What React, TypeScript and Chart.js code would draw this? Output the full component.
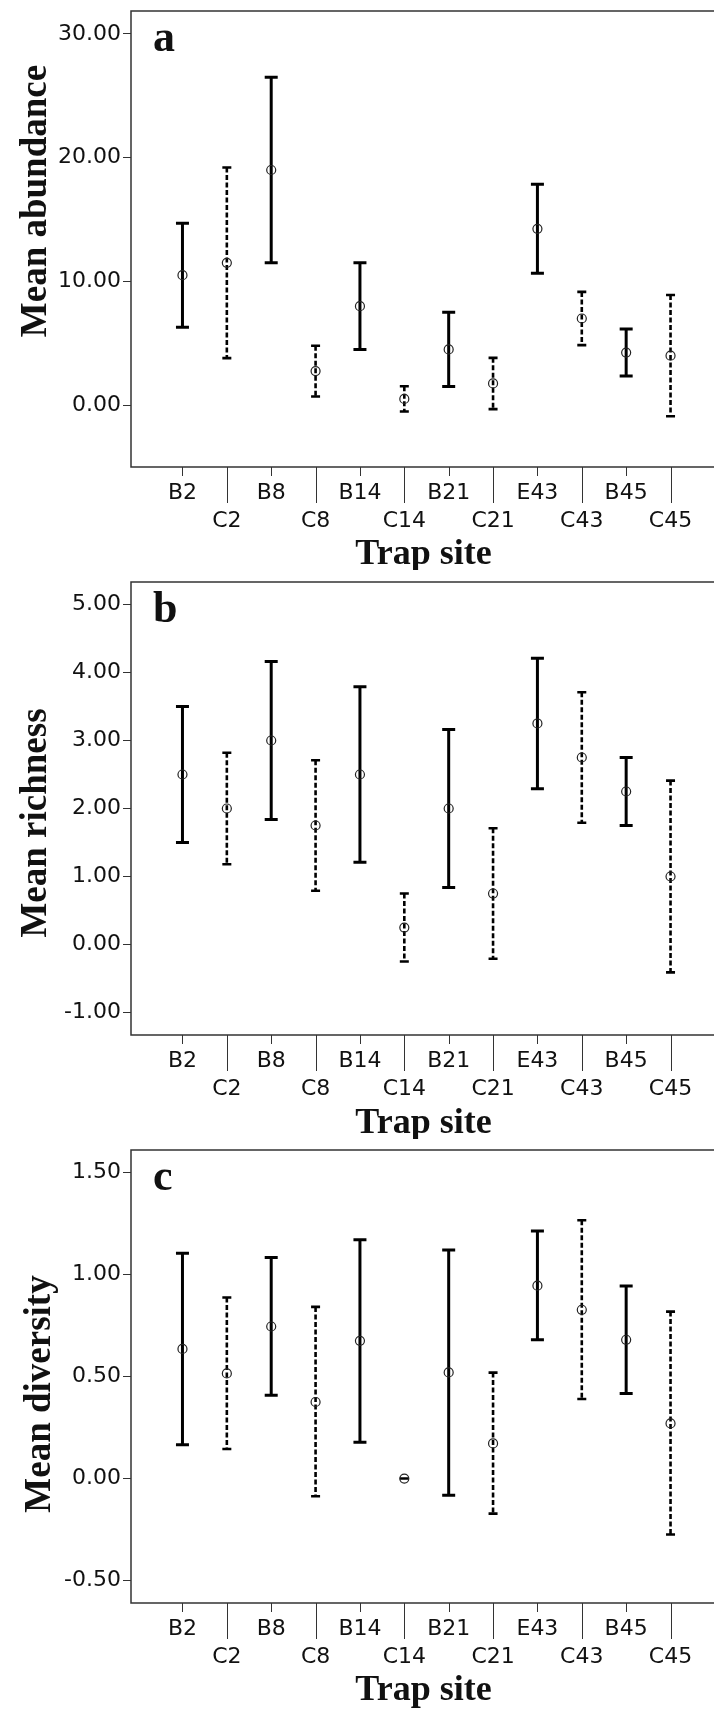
import React, { useEffect, useRef } from "react";
import { Chart, registerables } from "chart.js";

Chart.register(...registerables);

// ---------- data ----------
const sites = ["B2", "C2", "B8", "C8", "B14", "C14", "B21", "C21", "E43", "C43", "B45", "C45"];

const abundanceMean = [10.5, 11.5, 19.0, 2.75, 8.0, 0.5, 4.5, 1.75, 14.25, 7.0, 4.25, 4.0];
const abundanceLower = [6.3, 3.8, 11.5, 0.7, 4.5, -0.52, 1.5, -0.32, 10.65, 4.85, 2.35, -0.9];
const abundanceUpper = [14.7, 19.2, 26.5, 4.8, 11.5, 1.52, 7.5, 3.82, 17.85, 9.15, 6.15, 8.9];
const abundanceTicks = [0, 10, 20, 30];

const richnessMean = [2.5, 2.0, 3.0, 1.75, 2.5, 0.25, 2.0, 0.75, 3.25, 2.75, 2.25, 1.0];
const richnessLower = [1.5, 1.18, 1.84, 0.79, 1.21, -0.25, 0.84, -0.21, 2.29, 1.79, 1.75, -0.41];
const richnessUpper = [3.5, 2.82, 4.16, 2.71, 3.79, 0.75, 3.16, 1.71, 4.21, 3.71, 2.75, 2.41];
const richnessTicks = [-1, 0, 1, 2, 3, 4, 5];

const diversityMean = [0.635, 0.515, 0.745, 0.375, 0.675, 0.0, 0.52, 0.172, 0.945, 0.827, 0.68, 0.27];
const diversityLower = [0.165, 0.145, 0.408, -0.087, 0.178, 0.0, -0.082, -0.172, 0.68, 0.39, 0.417, -0.274];
const diversityUpper = [1.104, 0.887, 1.083, 0.841, 1.17, 0.0, 1.12, 0.519, 1.213, 1.266, 0.943, 0.818];
const diversityTicks = [-0.5, 0, 0.5, 1.0, 1.5];

// ---------- panel layout (styles / positions) ----------
const CANVAS_W = 730;
const PANELS = [
  {
    letter: "a", yTitle: "Mean abundance", mean: abundanceMean, lower: abundanceLower, upper: abundanceUpper,
    ticks: abundanceTicks, yMin: -5, yMax: 31.85, canvasH: 570, padTop: 11, xScaleH: 103,
    titleCY: 201, titleX: 46, xTitleDy: 97,
  },
  {
    letter: "b", yTitle: "Mean richness", mean: richnessMean, lower: richnessLower, upper: richnessUpper,
    ticks: richnessTicks, yMin: -1.33, yMax: 5.33, canvasH: 569, padTop: 12, xScaleH: 104,
    titleCY: 253, titleX: 46, xTitleDy: 98,
  },
  {
    letter: "c", yTitle: "Mean diversity", mean: diversityMean, lower: diversityLower, upper: diversityUpper,
    ticks: diversityTicks, yMin: -0.61, yMax: 1.61, canvasH: 572, padTop: 11, xScaleH: 108,
    titleCY: 255, titleX: 50, xTitleDy: 97,
  },
];

const TICK_FONT = '"DejaVu Sans", sans-serif';
const SERIF = '"Liberation Serif", "Times New Roman", serif';

function makeDecor(p: any) {
  return {
    id: "decor-" + p.letter,
    beforeDatasetsDraw(chart: any) {
      const { ctx, scales } = chart;
      const x = scales.x;
      const y = scales.y;
      ctx.save();
      ctx.strokeStyle = "#000";
      ctx.lineCap = "butt";
      p.mean.forEach((_m: number, i: number) => {
        const px = x.getPixelForValue(i);
        const lo = y.getPixelForValue(p.lower[i]);
        const hi = y.getPixelForValue(p.upper[i]);
        const dashed = sites[i].startsWith("C");
        ctx.lineWidth = dashed ? 2.6 : 3;
        ctx.setLineDash(dashed ? [5, 2.5] : []);
        ctx.beginPath();
        ctx.moveTo(px, hi);
        ctx.lineTo(px, lo);
        ctx.stroke();
        ctx.setLineDash([]);
        const hw = dashed ? 4.5 : 6.5;
        ctx.lineWidth = dashed ? 2.6 : 3;
        ctx.beginPath();
        ctx.moveTo(px - hw, hi);
        ctx.lineTo(px + hw, hi);
        ctx.moveTo(px - hw, lo);
        ctx.lineTo(px + hw, lo);
        ctx.stroke();
      });
      ctx.restore();
    },
    afterDraw(chart: any) {
      const { ctx, chartArea: ca, scales } = chart;
      const x = scales.x;
      ctx.save();
      // box (right side falls outside the picture)
      ctx.strokeStyle = "#333";
      ctx.lineWidth = 1.5;
      ctx.beginPath();
      ctx.moveTo(ca.right, ca.top);
      ctx.lineTo(ca.left, ca.top);
      ctx.lineTo(ca.left, ca.bottom);
      ctx.lineTo(ca.right, ca.bottom);
      ctx.stroke();
      // x tick marks: short for first row, long for second row
      ctx.lineWidth = 1;
      sites.forEach((s, i) => {
        const px = Math.round(x.getPixelForValue(i)) + 0.5;
        const len = s.startsWith("C") ? 36 : 9;
        ctx.beginPath();
        ctx.moveTo(px, ca.bottom);
        ctx.lineTo(px, ca.bottom + len);
        ctx.stroke();
      });
      // panel letter
      ctx.fillStyle = "#111";
      ctx.font = "bold 44px " + SERIF;
      ctx.textAlign = "left";
      ctx.textBaseline = "alphabetic";
      ctx.fillText(p.letter, 153, ca.top + 40);
      // x title
      ctx.font = "bold 36px " + SERIF;
      ctx.textAlign = "center";
      ctx.fillText("Trap site", (ca.left + ca.right) / 2 - 3, ca.bottom + p.xTitleDy);
      // y title
      ctx.translate(p.titleX, p.titleCY);
      ctx.rotate(-Math.PI / 2);
      ctx.font = "bold 37px " + SERIF;
      ctx.textAlign = "center";
      ctx.textBaseline = "alphabetic";
      ctx.fillText(p.yTitle, 0, 0);
      ctx.restore();
    },
  };
}

function Panel({ p }: { p: any }) {
  const ref = useRef<HTMLCanvasElement | null>(null);
  useEffect(() => {
    if (!ref.current) return;
    const chart = new Chart(ref.current, {
      type: "scatter",
      data: {
        datasets: [
          {
            data: p.mean.map((m: number, i: number) => ({ x: i, y: m })),
            pointRadius: 4.5,
            pointHoverRadius: 4.5,
            pointBorderWidth: 1.2,
            pointBorderColor: "#222",
            pointBackgroundColor: "rgba(0,0,0,0)",
            showLine: false,
          },
        ],
      },
      options: {
        animation: false,
        responsive: false,
        devicePixelRatio: 1,
        events: [],
        layout: { padding: { top: p.padTop, left: 0, right: CANVAS_W - 722, bottom: 0 } },
        plugins: { legend: { display: false }, tooltip: { enabled: false }, title: { display: false } },
        scales: {
          x: {
            type: "linear",
            min: -1.16,
            max: 12.16,
            afterBuildTicks: (s: any) => {
              s.ticks = sites.map((_, i) => ({ value: i }));
            },
            afterFit: (s: any) => {
              s.height = p.xScaleH;
              s.paddingLeft = 0;
              s.paddingRight = 0;
              s.paddingTop = 0;
              s.paddingBottom = 0;
            },
            grid: { display: false, drawTicks: false },
            border: { display: false },
            ticks: {
              autoSkip: false,
              maxRotation: 0,
              minRotation: 0,
              padding: 12,
              color: "#111",
              font: { family: TICK_FONT, size: 22, lineHeight: 1.27 },
              callback: (v: any) => {
                const s = sites[Math.round(Number(v))];
                if (s === undefined) return "";
                return s.startsWith("C") ? ["", s] : s;
              },
            },
          },
          y: {
            type: "linear",
            min: p.yMin,
            max: p.yMax,
            afterBuildTicks: (s: any) => {
              s.ticks = p.ticks.map((v: number) => ({ value: v }));
            },
            afterFit: (s: any) => {
              s.width = 131;
              s.paddingLeft = 0;
              s.paddingRight = 0;
              s.paddingTop = 0;
              s.paddingBottom = 0;
            },
            grid: { display: true, drawOnChartArea: false, drawTicks: true, tickLength: 8, color: "#333", lineWidth: 1 },
            border: { display: false },
            ticks: {
              padding: 2,
              color: "#111",
              font: { family: TICK_FONT, size: 22 },
              callback: (v: any) => Number(v).toFixed(2),
            },
          },
        },
      },
      plugins: [makeDecor(p)],
    } as any);
    return () => chart.destroy();
  }, [p]);
  return (
    <div style={{ width: CANVAS_W, height: p.canvasH }}>
      <canvas ref={ref} width={CANVAS_W} height={p.canvasH} style={{ display: "block" }} />
    </div>
  );
}

export default function App() {
  useEffect(() => {
    document.body.style.margin = "0";
    document.body.style.background = "#fff";
  }, []);
  return (
    <div style={{ width: 714, overflow: "hidden", background: "#fff" }}>
      {PANELS.map((p) => (
        <Panel key={p.letter} p={p} />
      ))}
    </div>
  );
}
